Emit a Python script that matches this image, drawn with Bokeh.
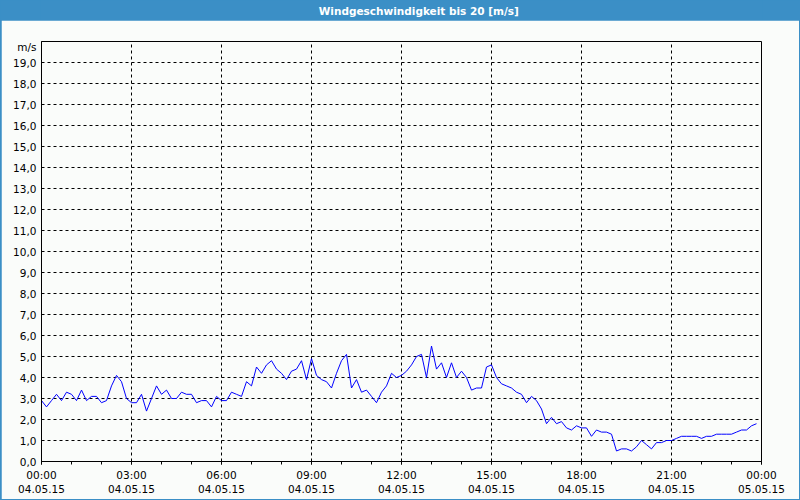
import pandas as pd
from bokeh.plotting import figure
from bokeh.models import FixedTicker, DatetimeTickFormatter, Range1d, ColumnDataSource
from bokeh.layouts import column
from bokeh.core.properties import value
from bokeh.embed import file_html
from bokeh.resources import INLINE

TITLE = "Windgeschwindigkeit bis 20 [m/s]"
UNIT = "m/s"
START = "2015-05-04 00:00"
END = "2015-05-05 00:00"

# wind speed, 10-minute samples from 04.05.15 00:00 to 23:50
speed_00_06 = [2.9, 2.6, 2.9, 3.2, 2.9, 3.3, 3.2, 2.9, 3.4, 2.9, 3.1, 3.1, 2.8, 2.9, 3.6, 4.1, 3.8, 3.0,
               2.8, 2.8, 3.2, 2.4, 3.0, 3.6, 3.2, 3.4, 3.0, 3.0, 3.3, 3.2, 3.2, 2.8, 2.9, 2.9, 2.6, 3.1]
speed_06_12 = [2.9, 2.9, 3.3, 3.2, 3.1, 3.8, 3.6, 4.5, 4.2, 4.6, 4.8, 4.4, 4.2, 3.9, 4.3, 4.4, 4.8, 3.9,
               4.9, 4.1, 3.9, 3.8, 3.5, 4.2, 4.8, 5.1, 3.5, 3.9, 3.3, 3.4, 3.1, 2.8, 3.3, 3.6, 4.2, 4.0]
speed_12_18 = [4.1, 4.3, 4.6, 5.0, 5.1, 4.0, 5.5, 4.4, 4.7, 4.0, 4.7, 4.0, 4.3, 4.0, 3.4, 3.5, 3.5, 4.5,
               4.6, 4.0, 3.7, 3.6, 3.5, 3.3, 3.2, 2.8, 3.1, 2.9, 2.5, 1.8, 2.1, 1.8, 1.9, 1.6, 1.5, 1.7]
speed_18_24 = [1.6, 1.6, 1.2, 1.5, 1.4, 1.4, 1.3, 0.5, 0.6, 0.6, 0.5, 0.7, 1.0, 0.8, 0.6, 0.9, 0.9, 1.0,
               1.0, 1.1, 1.2, 1.2, 1.2, 1.2, 1.1, 1.2, 1.2, 1.3, 1.3, 1.3, 1.3, 1.4, 1.5, 1.5, 1.7, 1.8]

y_ticks = list(range(0, 20))
y_labels = [f"{t},0" for t in y_ticks]
unit_pos = 19.72

speeds = speed_00_06 + speed_06_12 + speed_12_18 + speed_18_24
times = pd.date_range(START, periods=len(speeds), freq="10min")
source = ColumnDataSource(data=dict(t=times, v=speeds))

BLUE = "#3b8fc6"
BG = "#fafcfa"
FONT = "DejaVu Sans"

t0 = pd.Timestamp(START)
t1 = pd.Timestamp(END)
ms = lambda ts: ts.value / 1e6
major = [ms(t) for t in pd.date_range(START, END, freq="3h")]
minor = [ms(t) for t in pd.date_range(START, END, freq="1h")]

# title bar
tf = figure(width=800, height=20, x_range=Range1d(0, 1), y_range=Range1d(0, 1),
            x_axis_location=None, y_axis_location=None, toolbar_location=None,
            output_backend="svg", min_border=0)
tf.grid.visible = False
tf.outline_line_color = None
tf.background_fill_color = BLUE
tf.border_fill_color = BLUE
tf.text(x=[0.524], y=[0.5], text=[TITLE], text_color="white", text_font=value(FONT),
        text_font_style="bold", text_font_size="10.5px", text_align="center", text_baseline="middle")

p = figure(width=798, height=479, x_axis_type="datetime",
           x_range=Range1d(ms(t0), ms(t1)), y_range=Range1d(0, 20),
           toolbar_location=None, output_backend="svg",
           min_border_left=40, min_border_right=38, min_border_top=21, min_border_bottom=38,
           margin=(0, 1, 1, 1))
p.background_fill_color = BG
p.border_fill_color = BG
p.outline_line_color = "black"
p.outline_line_width = 1

p.line("t", "v", source=source, line_color="#0000ff", line_width=1)

fmt = "%H:%M\n%d.%m.%y"
p.xaxis.ticker = FixedTicker(ticks=major, minor_ticks=minor)
p.xaxis.formatter = DatetimeTickFormatter(hours=fmt, days=fmt, hourmin=fmt, minutes=fmt,
                                          minsec=fmt, seconds=fmt, months=fmt, years=fmt,
                                          milliseconds=fmt, microseconds=fmt, context=None)
p.xaxis.major_tick_out = 3
p.xaxis.major_tick_in = 0
p.xaxis.minor_tick_out = 3
p.xaxis.minor_tick_in = 0
p.xaxis.major_label_standoff = 4

overrides = {t: l for t, l in zip(y_ticks, y_labels)}
overrides[unit_pos] = UNIT
p.yaxis.ticker = FixedTicker(ticks=y_ticks + [unit_pos])
p.yaxis.major_label_overrides = overrides
p.yaxis.major_tick_out = 0
p.yaxis.major_tick_in = 0
p.yaxis.minor_tick_out = 0
p.yaxis.minor_tick_in = 0
p.yaxis.major_label_standoff = 5

for ax in (p.xaxis, p.yaxis):
    ax.axis_line_color = "black"
    ax.major_tick_line_color = "black"
    ax.minor_tick_line_color = "black"
    ax.major_label_text_font = FONT
    ax.major_label_text_font_size = "10.5px"
    ax.major_label_text_color = "black"

p.xgrid.ticker = FixedTicker(ticks=major[1:-1])
p.ygrid.ticker = FixedTicker(ticks=y_ticks[1:])
for g in (p.xgrid, p.ygrid):
    g.grid_line_color = "black"
    g.grid_line_dash = "3 3"
    g.grid_line_width = 1
    g.grid_line_alpha = 1

layout = column(tf, p, spacing=0, styles={"background-color": BLUE})
open("out.html", "w").write(file_html(layout, INLINE))
